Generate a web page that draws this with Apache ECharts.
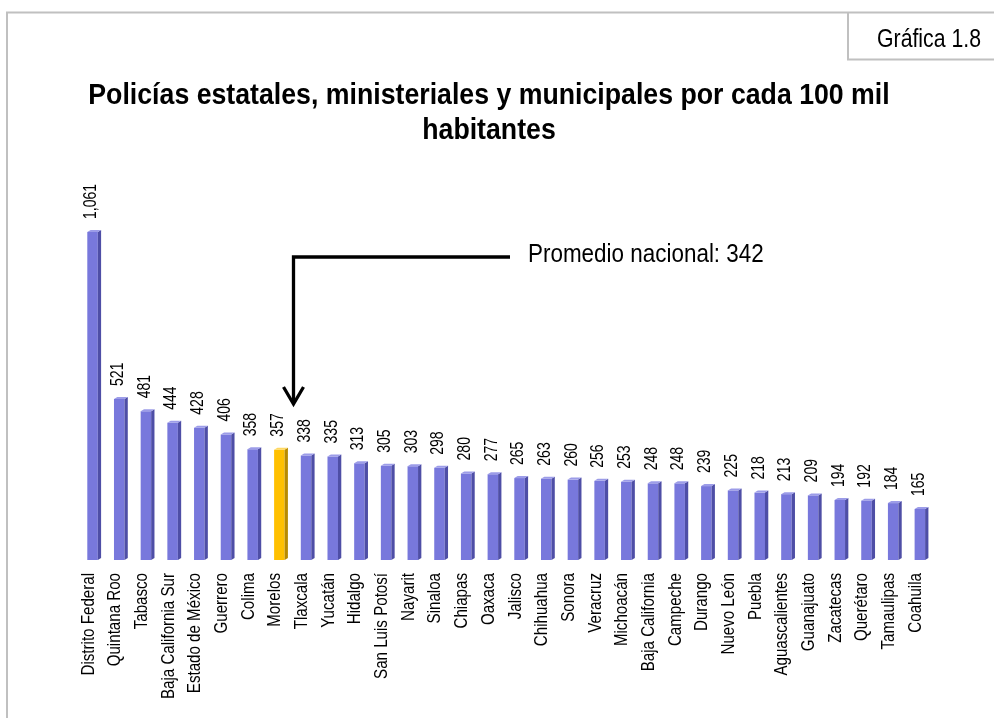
<!DOCTYPE html>
<html><head><meta charset="utf-8">
<script src="https://cdn.jsdelivr.net/npm/echarts@6/dist/echarts.min.js"></script>
<style>html,body{margin:0;padding:0;background:#fff}#c{width:994px;height:718px}</style>
</head><body><div id="c"></div>
<script>
const categories = ["Distrito Federal","Quintana Roo","Tabasco","Baja California Sur","Estado de México","Guerrero","Colima","Morelos","Tlaxcala","Yucatán","Hidalgo","San Luis Potosí","Nayarit","Sinaloa","Chiapas","Oaxaca","Jalisco","Chihuahua","Sonora","Veracruz","Michoacán","Baja California","Campeche","Durango","Nuevo León","Puebla","Aguascalientes","Guanajuato","Zacatecas","Querétaro","Tamaulipas","Coahuila"];
const values = [1061,521,481,444,428,406,358,357,338,335,313,305,303,298,280,277,265,263,260,256,253,248,248,239,225,218,213,209,194,192,184,165];
const highlight = "Morelos";
const titleLines = ["Policías estatales, ministeriales y municipales por cada 100 mil","habitantes"];
const noteText = "Promedio nacional: 342";
const tagText = "Gráfica 1.8";

const FONT = "'Liberation Sans',Arial,sans-serif";
const chart = echarts.init(document.getElementById('c'));
function fmt(v){ return v.toLocaleString('en-US'); }

const GL = 80, GR = 60;
chart.setOption({
  animation:false,
  backgroundColor:'#fff',
  grid:{left:GL,right:GR,top:189,bottom:158},
  xAxis:{type:'category',data:categories,
    axisLine:{show:false},axisTick:{show:false},axisLabel:{show:false}},
  yAxis:{type:'value',min:0,max:1200,show:false,splitLine:{show:false}},
  series:[{
    type:'custom',
    data:values.map((v,i)=>[i,v]),
    renderItem:function(params,api){
      const i=api.value(0), v=api.value(1);
      const top=api.coord([i,v]), base=api.coord([i,0]);
      const w=10.5, d=3.3, cx=top[0]-0.8;
      const hl = categories[i]===highlight;
      const front = hl ? '#FFC000' : '#7878DC';
      const side = hl ? '#B88A00' : '#4E4EA6';
      const topc = hl ? '#FFD860' : '#9C9CE8';
      const x0=cx-w/2, x1=cx+w/2, y0=top[1], y1=base[1];
      return {type:'group',children:[
        {type:'rect',shape:{x:x0,y:y0,width:w,height:y1-y0},style:{fill:front}},
        {type:'polygon',shape:{points:[[x1,y0],[x1+d,y0-2],[x1+d,y1-2],[x1,y1]]},style:{fill:side}},
        {type:'polygon',shape:{points:[[x0,y0],[x0+d,y0-2],[x1+d,y0-2],[x1,y0]]},style:{fill:topc}},
        {type:'text',x:cx-1,y:y0-13,rotation:Math.PI/2,scaleX:0.8,
          style:{text:fmt(v),align:'left',verticalAlign:'middle',fontFamily:FONT,fontSize:17.5,fill:'#000'}},
        {type:'text',x:cx-4,y:y1+13,rotation:Math.PI/2,scaleX:0.84,
          style:{text:categories[i],align:'right',verticalAlign:'middle',fontFamily:FONT,fontSize:18,fill:'#000'}}
      ]};
    }
  }]
});

const iM = categories.indexOf(highlight);
const ax = (chart.convertToPixel({xAxisIndex:0},iM) + chart.convertToPixel({xAxisIndex:0},iM+1))/2;
const yTop = 257, yTip = 404;
chart.setOption({graphic:[
  {type:'line',shape:{x1:6,y1:12.5,x2:994,y2:12.5},style:{stroke:'#C0C0C0',lineWidth:2}},
  {type:'line',shape:{x1:7,y1:12,x2:7,y2:718},style:{stroke:'#C0C0C0',lineWidth:2}},
  {type:'polyline',shape:{points:[[848,13],[848,59.5],[994,59.5]]},style:{stroke:'#C0C0C0',lineWidth:2,fill:null}},
  {type:'text',x:929,y:40,scaleX:0.85,style:{text:tagText,align:'center',verticalAlign:'middle',fontFamily:FONT,fontSize:25,fill:'#000'}},
  {type:'text',x:489,y:96,scaleX:0.89,style:{text:titleLines[0],align:'center',verticalAlign:'middle',fontFamily:FONT,fontWeight:'bold',fontSize:30,fill:'#000'}},
  {type:'text',x:489,y:131,scaleX:0.89,style:{text:titleLines[1],align:'center',verticalAlign:'middle',fontFamily:FONT,fontWeight:'bold',fontSize:30,fill:'#000'}},
  {type:'polyline',shape:{points:[[510,yTop],[ax,yTop],[ax,yTip-2]]},style:{stroke:'#000',lineWidth:3.3,fill:null}},
  {type:'polyline',shape:{points:[[ax-10,yTip-17],[ax,yTip],[ax+10,yTip-17]]},style:{stroke:'#000',lineWidth:3.3,fill:null}},
  {type:'text',x:528,y:255,scaleX:0.88,style:{text:noteText,align:'left',verticalAlign:'middle',fontFamily:FONT,fontSize:25.5,fill:'#000'}}
]});
</script></body></html>
